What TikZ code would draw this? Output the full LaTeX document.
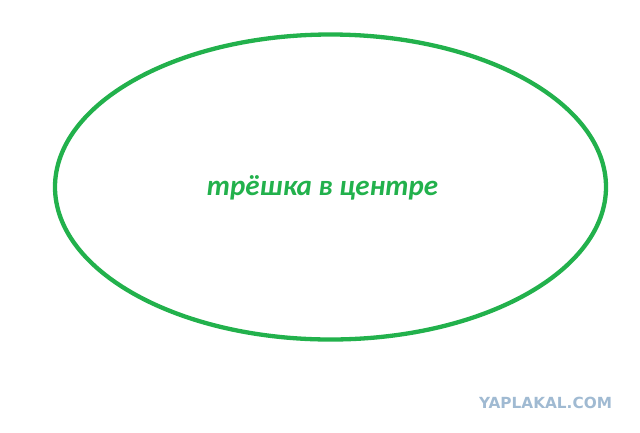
\documentclass[tikz,border=0pt]{standalone}
\usepackage{fontspec}
\newfontfamily\labelfont{Carlito}
\newfontfamily\markfont{DejaVu Sans}
\usepackage{tikz}
\definecolor{paintgreen}{RGB}{34,177,76}
\definecolor{markblue}{RGB}{160,186,210}

\begin{document}
\begin{tikzpicture}[x=1pt,y=-1pt]
\useasboundingbox (0,0) rectangle (640,432);
%%% Draws the zone
% draws ellipse
\draw[paintgreen, line width=4.3pt] (330.5,187) ellipse [x radius=275.5, y radius=152.5];
% labels zone
\node[text=paintgreen, font=\labelfont\bfseries\itshape\fontsize{29}{29}\selectfont] (zone) at (322.5,188) {трёшка в центре};
%%% Draws watermark
\node[text=markblue, font=\markfont\bfseries\fontsize{15.3}{15.3}\selectfont] (mark) at (545.5,403) {YAPLAKAL.COM};
\end{tikzpicture}
\end{document}
